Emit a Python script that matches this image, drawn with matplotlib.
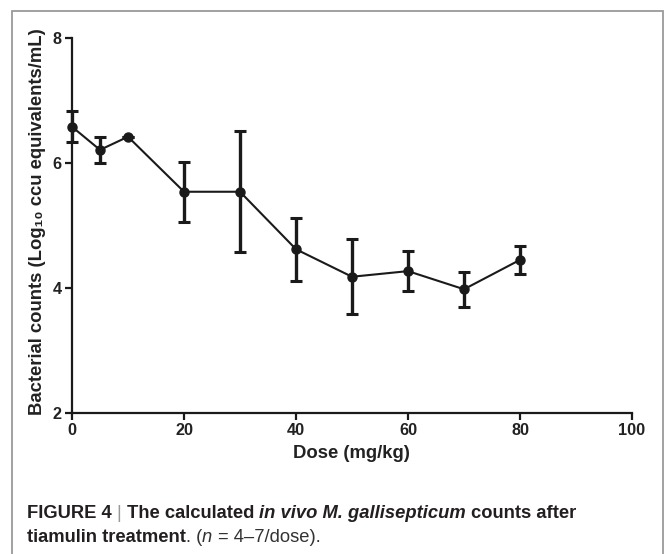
import matplotlib
matplotlib.use("Agg")
import matplotlib.pyplot as plt
from matplotlib.patches import Rectangle

dose = [0, 5, 10, 20, 30, 40, 50, 60, 70, 80]
counts = [6.58, 6.21, 6.42, 5.54, 5.54, 4.62, 4.18, 4.27, 3.98, 4.45]
err = [0.25, 0.21, 0.0, 0.48, 0.97, 0.50, 0.60, 0.32, 0.28, 0.22]
xticks = [0, 20, 40, 60, 80, 100]
yticks = [2, 4, 6, 8]

W, H = 667, 554
fig = plt.figure(figsize=(W / 100, H / 100), dpi=100)
FONT = ["Liberation Sans", "DejaVu Sans"]
plt.rcParams["font.family"] = FONT

ax = fig.add_axes([72 / W, 1 - 413 / H, (632 - 72) / W, (413 - 38) / H])
ax.errorbar(dose, counts, yerr=err, color="#1a1a1a", lw=1.5, marker="o", ms=6.5,
            elinewidth=2.4, capsize=4.2, capthick=2.2, clip_on=False, zorder=3)
ax.set_xlim(0, 100)
ax.set_ylim(2, 8)
ax.set_xticks(xticks)
ax.set_yticks(yticks)
for s in ["top", "right"]:
    ax.spines[s].set_visible(False)
for s in ["left", "bottom"]:
    ax.spines[s].set_linewidth(1.6)
    ax.spines[s].set_color("#1a1a1a")
ax.tick_params(direction="out", length=5, width=1.6, color="#1a1a1a",
               labelsize=11.7, labelcolor="#222222", pad=2.5)
for lab in ax.get_xticklabels() + ax.get_yticklabels():
    lab.set_fontweight("bold")

fig.text(351 / W, 1 - 454 / H, "Dose (mg/kg)", ha="center", va="center",
         fontsize=13.3, fontweight="bold", color="#222222")
fig.text(38 / W, 1 - 222 / H, "Bacterial counts (Log\u2081\u2080 ccu equivalents/mL)",
         ha="center", va="center", rotation=90, fontsize=13.3,
         fontweight="bold", color="#222222")

# outer frame
fig.patches.append(Rectangle((12 / W, -0.05), (663 - 12) / W, 1 - 11 / H + 0.05,
                             transform=fig.transFigure, fill=False,
                             edgecolor="#9a9a9a", lw=1.3))

renderer = fig.canvas.get_renderer()


def width_px(s, **kw):
    t = fig.text(0, 0, s, **kw)
    w = t.get_window_extent(renderer).width
    t.remove()
    return w


def place_line(pieces, x0, y):
    x = x0
    for s, kw in pieces:
        lead = len(s) - len(s.lstrip(" "))
        trail = len(s) - len(s.rstrip(" "))
        core = s.strip(" ")
        sp = width_px("a a", **kw) - width_px("aa", **kw)
        x += lead * sp
        t = fig.text(x / W, 1 - y / H, core, va="baseline", ha="left", **kw)
        x += t.get_window_extent(renderer).width + trail * sp


CS = 13.2
bold = dict(fontsize=CS, fontweight="bold", color="#231f20")
boldit = dict(fontsize=CS, fontweight="bold", style="italic", color="#231f20")
norm = dict(fontsize=CS, color="#333333")
ital = dict(fontsize=CS, style="italic", color="#333333")
bar = dict(fontsize=CS, color="#999999")

place_line([("FIGURE 4 ", bold), ("| ", bar), ("The calculated ", bold),
            ("in vivo M. gallisepticum ", boldit), ("counts after", bold)], 27, 518)
place_line([("tiamulin treatment", bold), (". (", norm), ("n", ital),
            (" = 4\u20137/dose).", norm)], 27, 542)

fig.savefig("out.png", dpi=100)
